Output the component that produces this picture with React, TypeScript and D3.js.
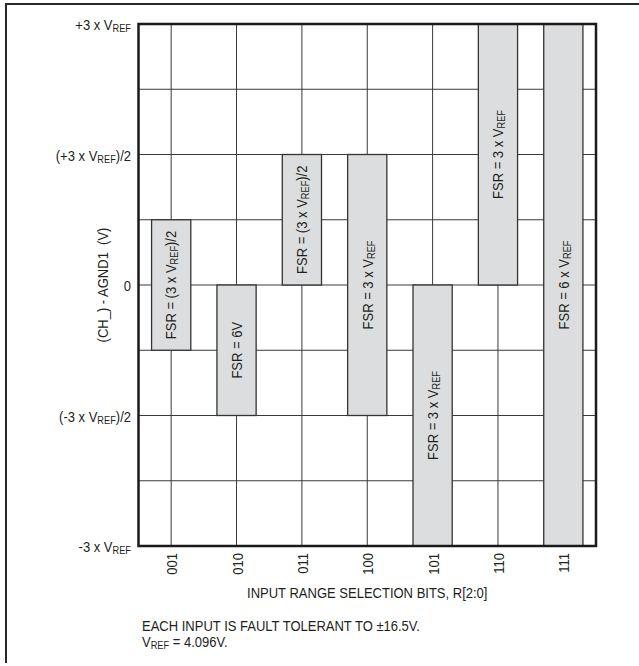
import React from "react";
import * as d3 from "d3";

// ---- data (values in multiples of VREF) ----
const categories = ["001", "010", "011", "100", "101", "110", "111"];
const lowValues = [-0.75, -1.5, 0, -1.5, -3, 0, -3];
const highValues = [0.75, 0, 1.5, 1.5, 0, 3, 3];
type Seg = { t: string; sub?: boolean };
const barLabels: Seg[][] = [
  [{ t: "FSR = (3 x V" }, { t: "REF", sub: true }, { t: ")/2" }],
  [{ t: "FSR = 6V" }],
  [{ t: "FSR = (3 x V" }, { t: "REF", sub: true }, { t: ")/2" }],
  [{ t: "FSR = 3 x V" }, { t: "REF", sub: true }],
  [{ t: "FSR = 3 x V" }, { t: "REF", sub: true }],
  [{ t: "FSR = 3 x V" }, { t: "REF", sub: true }],
  [{ t: "FSR = 6 x V" }, { t: "REF", sub: true }],
];
const yTickValues = [3, 1.5, 0, -1.5, -3];
const yTickLabels: Seg[][] = [
  [{ t: "+3 x V" }, { t: "REF", sub: true }],
  [{ t: "(+3 x V" }, { t: "REF", sub: true }, { t: ")/2" }],
  [{ t: "0" }],
  [{ t: "(-3 x V" }, { t: "REF", sub: true }, { t: ")/2" }],
  [{ t: "-3 x V" }, { t: "REF", sub: true }],
];
const gridValues = [-2.25, -1.5, -0.75, 0, 0.75, 1.5, 2.25];
const yTitle = "(CH_) - AGND1  (V)";
const xTitle = "INPUT RANGE SELECTION BITS, R[2:0]";
const note1 = "EACH INPUT IS FAULT TOLERANT TO ±16.5V.";
const note2: Seg[] = [{ t: "V" }, { t: "REF", sub: true }, { t: " = 4.096V." }];

const FONT = "'Liberation Sans', Arial, sans-serif";
const FS = 15.5;
const SUB = 11;
const SX = 0.84;
const INK = "#231f20";

function Rich({ segs }: { segs: Seg[] }) {
  const out: React.ReactNode[] = [];
  let shifted = false;
  segs.forEach((s, i) => {
    if (s.sub) {
      out.push(
        <tspan key={i} fontSize={SUB} dy={shifted ? 0 : 2}>
          {s.t}
        </tspan>
      );
      shifted = true;
    } else {
      out.push(
        <tspan key={i} fontSize={FS} dy={shifted ? -2 : 0}>
          {s.t}
        </tspan>
      );
      shifted = false;
    }
  });
  return <>{out}</>;
}

export default function App() {
  const W = 639;
  const H = 666;
  const left = 138.5;
  const right = 596;
  const top = 24;
  const bottom = 546;
  const x = d3.scaleBand<string>().domain(categories).range([left, right]).padding(0);
  const y = d3.scaleLinear().domain([-3, 3]).range([bottom, top]);
  const bw = x.bandwidth() * 0.6;
  const cx = (c: string) => (x(c) as number) + x.bandwidth() / 2;

  return (
    <svg
      width={W}
      height={H}
      style={{ position: "absolute", left: 0, top: 0, background: "#fff" }}
      fontFamily={FONT}
      fontSize={FS}
    >
      {/* outer frame (partial) */}
      <line x1={5} x2={W} y1={4} y2={4} stroke="#2a2a2a" strokeWidth={2} />
      <line x1={6} x2={6} y1={3} y2={663} stroke="#2a2a2a" strokeWidth={2} />

      {/* horizontal grid */}
      {gridValues.map((v) => (
        <line key={"h" + v} x1={left} x2={right} y1={y(v)} y2={y(v)} stroke="#3a3a3a" strokeWidth={1} />
      ))}
      {/* vertical grid at category centers */}
      {categories.map((c) => (
        <line key={"v" + c} x1={cx(c)} x2={cx(c)} y1={top} y2={bottom} stroke="#3a3a3a" strokeWidth={1} />
      ))}

      {/* bars */}
      {categories.map((c, i) => (
        <rect
          key={"b" + c}
          x={cx(c) - bw / 2}
          y={y(highValues[i])}
          width={bw}
          height={y(lowValues[i]) - y(highValues[i])}
          fill="#dcdddf"
          stroke="#333"
          strokeWidth={1.3}
        />
      ))}
      {/* bar labels */}
      {categories.map((c, i) => {
        const my = y((highValues[i] + lowValues[i]) / 2);
        return (
          <text
            key={"l" + c}
            transform={`translate(${cx(c) + 5.3},${my}) rotate(-90) scale(${SX},1)`}
            textAnchor="middle"
            fill={INK}
          >
            <Rich segs={barLabels[i]} />
          </text>
        );
      })}

      {/* plot border */}
      <rect x={left} y={top} width={right - left} height={bottom - top} fill="none" stroke="#1a1a1a" strokeWidth={2.5} />

      {/* y tick labels */}
      {yTickValues.map((v, i) => (
        <text
          key={"yt" + v}
          transform={`translate(131,${y(v) + 6}) scale(${SX},1)`}
          textAnchor="end"
          fill={INK}
        >
          <Rich segs={yTickLabels[i]} />
        </text>
      ))}
      {/* y title */}
      <text
        transform={`translate(107.5,${y(0)}) rotate(-90) scale(${SX},1)`}
        textAnchor="middle"
        fill={INK}
        xmlSpace="preserve"
      >
        {yTitle}
      </text>

      {/* x tick labels */}
      {categories.map((c) => (
        <text
          key={"xt" + c}
          transform={`translate(${cx(c) + 6},553) rotate(-90) scale(${SX},1)`}
          textAnchor="end"
          fill={INK}
        >
          {c}
        </text>
      ))}
      {/* x title */}
      <text transform={`translate(${(left + right) / 2},597.5) scale(${SX},1)`} textAnchor="middle" fill={INK}>
        {xTitle}
      </text>

      {/* notes */}
      <text transform={`translate(142,631) scale(${SX},1)`} fill={INK}>
        {note1}
      </text>
      <text transform={`translate(142,647) scale(${SX},1)`} fill={INK}>
        <Rich segs={note2} />
      </text>
    </svg>
  );
}
